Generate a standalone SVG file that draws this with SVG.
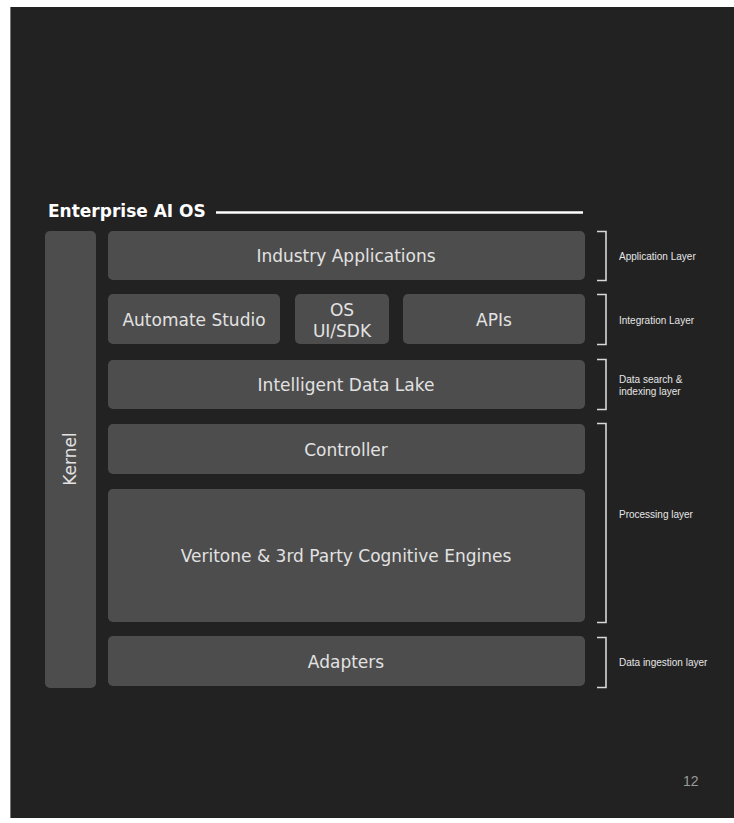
<svg xmlns="http://www.w3.org/2000/svg" width="734" height="823" viewBox="0 0 734 823">
<style>
.box{fill:#4d4d4d;}
.t{font-family:"DejaVu Sans",Verdana,sans-serif;font-size:17px;fill:#e2e2e2;text-anchor:middle;}
.lbl{font-family:"Liberation Sans",Arial,sans-serif;font-size:10px;fill:#e6e6e6;}
.br{fill:none;stroke:#d8d8d8;stroke-width:1.6;}
</style>
<rect x="0" y="0" width="734" height="823" fill="#ffffff"/>
<rect x="10" y="7" width="724" height="811" fill="#222222"/>
<line x1="10.5" y1="7" x2="10.5" y2="818" stroke="#777" stroke-width="1"/>
<g id="title">
<text x="48" y="217" font-family="'DejaVu Sans',Verdana,sans-serif" font-size="17" font-weight="bold" fill="#ffffff">Enterprise AI OS</text>
<line x1="216" y1="212.5" x2="583" y2="212.5" stroke="#ffffff" stroke-width="2.5"/>
</g>
<g id="kernel"><rect class="box" x="45" y="231" width="51" height="457" rx="5"/><text class="t" transform="translate(76,459) rotate(-90)">Kernel</text></g>
<g id="industry"><rect class="box" x="108" y="231" width="477" height="49" rx="5"/><text class="t" x="346" y="262">Industry Applications</text></g>
<g id="automate"><rect class="box" x="108" y="294" width="172" height="50" rx="5"/><text class="t" x="194" y="326">Automate Studio</text></g>
<g id="osui"><rect class="box" x="295" y="294" width="94" height="50" rx="5"/><text class="t" x="342" y="316">OS</text><text class="t" x="342" y="337">UI/SDK</text></g>
<g id="apis"><rect class="box" x="403" y="294" width="182" height="50" rx="5"/><text class="t" x="494" y="326">APIs</text></g>
<g id="datalake"><rect class="box" x="108" y="360" width="477" height="49" rx="5"/><text class="t" x="346" y="391">Intelligent Data Lake</text></g>
<g id="controller"><rect class="box" x="108" y="424" width="477" height="50" rx="5"/><text class="t" x="346" y="456">Controller</text></g>
<g id="engines"><rect class="box" x="108" y="489" width="477" height="133" rx="5"/><text class="t" x="346" y="562">Veritone &amp; 3rd Party Cognitive Engines</text></g>
<g id="adapters"><rect class="box" x="108" y="636" width="477" height="50" rx="5"/><text class="t" x="346" y="668">Adapters</text></g>
<g id="connectors">
<path class="br" d="M597,231.5 H606 V280.5 H597"/>
<path class="br" d="M597,294.5 H606 V344.5 H597"/>
<path class="br" d="M597,359.5 H606 V409.5 H597"/>
<path class="br" d="M597,423.5 H606 V622.5 H597"/>
<path class="br" d="M597,637.5 H606 V687.5 H597"/>
</g>
<g id="labels">
<text class="lbl" x="619" y="260">Application Layer</text>
<text class="lbl" x="619" y="324">Integration Layer</text>
<text class="lbl" x="619" y="383">Data search &amp;</text>
<text class="lbl" x="619" y="395">indexing layer</text>
<text class="lbl" x="619" y="518">Processing layer</text>
<text class="lbl" x="619" y="666">Data ingestion layer</text>
</g>
<text x="683" y="786" font-family="'Liberation Sans',Arial,sans-serif" font-size="14" fill="#9a9a9a">12</text>
</svg>
